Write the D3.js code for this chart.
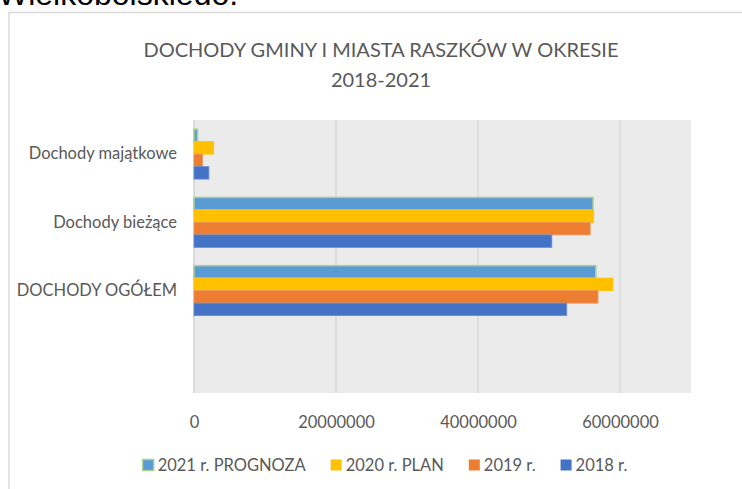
<!DOCTYPE html>
<html><head><meta charset="utf-8">
<script src="https://cdn.jsdelivr.net/npm/d3@7"></script>
<style>body{margin:0;background:#fff}</style>
</head><body><div id="chart"></div>
<script>
// dane
const categories = ['Dochody majątkowe', 'Dochody bieżące', 'DOCHODY OGÓŁEM', ''];
const seriesNames = ['2021 r. PROGNOZA', '2020 r. PLAN', '2019 r.', '2018 r.'];
const values2021 = [500000, 56200000, 56600000, null];
const values2020 = [2770000, 56300000, 59000000, null];
const values2019 = [1200000, 55800000, 56900000, null];
const values2018 = [2100000, 50400000, 52500000, null];
const xTicks = [0, 20000000, 40000000, 60000000];
const titleLines = ['DOCHODY GMINY I MIASTA RASZKÓW W OKRESIE', '2018-2021'];

const seriesValues = [values2021, values2020, values2019, values2018];
const fills = ['#5B9BD5', '#FFC000', '#ED7D31', '#4472C4'];
const strokes = ['#A9D18E', '#FFC000', '#F0955A', '#6A8FD0'];

const width = 742, height = 489;
const plot = { left: 194, right: 691, top: 120, bottom: 393 };
const textColor = '#595959';
const font = 'Lato, "Open Sans", sans-serif';
const labelSize = 16.5;

const svg = d3.select('#chart').append('svg')
  .attr('width', width)
  .attr('height', height);

// --- tekst nad wykresem (ucięty jak w oryginale) ---
svg.append('clipPath').attr('id', 'topclip')
  .append('rect').attr('x', 0).attr('y', 0).attr('width', width).attr('height', 5);
svg.append('text')
  .attr('clip-path', 'url(#topclip)')
  .attr('x', -2)
  .attr('y', 4.5)
  .attr('font-family', '"Liberation Sans", Arial, sans-serif')
  .attr('font-size', 32)
  .attr('fill', '#000')
  .text('Wielkopolskiego.');

// --- ramka wykresu ---
svg.append('rect')
  .attr('x', 9)
  .attr('y', 12.5)
  .attr('width', width + 20)
  .attr('height', height + 20)
  .attr('fill', '#fff')
  .attr('stroke', '#D9D9D9')
  .attr('stroke-width', 1.5);

// --- tytuł ---
svg.append('g')
  .selectAll('text')
  .data(titleLines)
  .join('text')
  .attr('x', 381)
  .attr('y', (d, i) => 50 + i * 30)
  .attr('dy', '0.35em')
  .attr('text-anchor', 'middle')
  .attr('font-family', font)
  .attr('font-size', 20)
  .attr('fill', textColor)
  .text(d => d);

// --- skale ---
const x = d3.scaleLinear().domain([0, 70000000]).range([plot.left, plot.right]);
const y0 = d3.scaleBand().domain(categories).range([plot.top, plot.bottom]);
const y1 = d3.scaleBand().domain(seriesNames).range([0, y0.bandwidth()]).paddingOuter(0.73);

// tło obszaru kreślenia
svg.append('rect')
  .attr('x', plot.left)
  .attr('y', plot.top)
  .attr('width', plot.right - plot.left)
  .attr('height', plot.bottom - plot.top)
  .attr('fill', '#EBEBEB');

// linie siatki
svg.append('g')
  .selectAll('line')
  .data(xTicks)
  .join('line')
  .attr('x1', d => x(d))
  .attr('x2', d => x(d))
  .attr('y1', plot.top)
  .attr('y2', plot.bottom)
  .attr('stroke', d => d === 0 ? '#D0D0D0' : '#D9D9D9')
  .attr('stroke-width', 1.5);

// --- słupki ---
const bars = [];
categories.forEach((cat, ci) => {
  seriesNames.forEach((s, si) => {
    const v = seriesValues[si][ci];
    if (v != null) bars.push({ cat, s, si, v });
  });
});
svg.append('g')
  .selectAll('rect')
  .data(bars)
  .join('rect')
  .attr('x', x(0))
  .attr('y', d => y0(d.cat) + y1(d.s))
  .attr('width', d => x(d.v) - x(0))
  .attr('height', y1.bandwidth())
  .attr('fill', d => fills[d.si])
  .attr('stroke', d => strokes[d.si])
  .attr('stroke-width', d => d.si === 0 ? 1.5 : 0.8);

// --- oś X ---
const xAxis = d3.axisBottom(x).tickValues(xTicks).tickFormat(d3.format('d')).tickSize(0).tickPadding(0);
const gx = svg.append('g')
  .attr('transform', `translate(0,${plot.bottom})`)
  .call(xAxis);
gx.select('.domain').remove();
gx.selectAll('text')
  .attr('y', 29)
  .attr('dy', '0.35em')
  .attr('font-family', font)
  .attr('font-size', labelSize)
  .attr('fill', textColor);

// --- oś Y ---
const yAxis = d3.axisLeft(y0).tickSize(0).tickPadding(0);
const gy = svg.append('g')
  .attr('transform', `translate(177,0)`)
  .call(yAxis);
gy.select('.domain').remove();
gy.selectAll('text')
  .attr('font-family', font)
  .attr('font-size', labelSize)
  .attr('fill', textColor);

// --- legenda ---
const legend = svg.append('g').attr('transform', 'translate(0,465)');
const items = legend.selectAll('g')
  .data(seriesNames)
  .join('g');
items.append('rect')
  .attr('width', 11)
  .attr('height', 11)
  .attr('y', -5.5)
  .attr('fill', (d, i) => fills[i])
  .attr('stroke', (d, i) => i === 0 ? strokes[0] : 'none')
  .attr('stroke-width', 1.5);
items.append('text')
  .attr('x', 15)
  .attr('dy', '0.35em')
  .attr('font-family', font)
  .attr('font-size', labelSize)
  .attr('fill', textColor)
  .text(d => d);
let lx = 0;
const offsets = [];
items.each(function () {
  offsets.push(lx);
  lx += 15 + d3.select(this).select('text').node().getComputedTextLength() + 25;
});
const legendWidth = lx - 25;
const legendStart = 385 - legendWidth / 2;
items.attr('transform', (d, i) => `translate(${legendStart + offsets[i]},0)`);
</script></body></html>
